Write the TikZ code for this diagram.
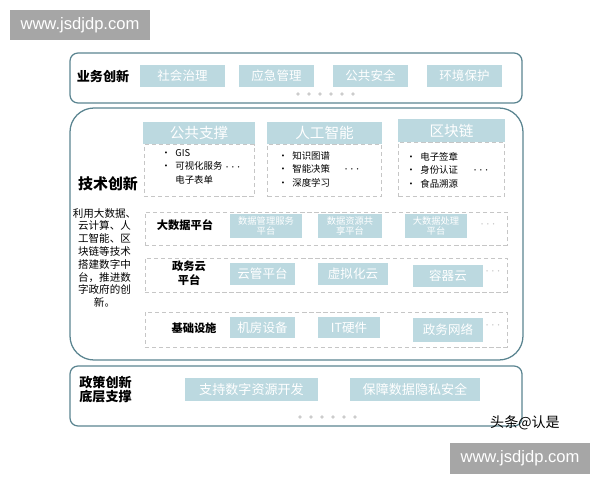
\documentclass[tikz,border=0pt]{standalone}
\usepackage{fontspec}
\setmainfont{Noto Sans CJK SC}
\newfontfamily\latinfont{Liberation Sans}
\usetikzlibrary{positioning}

\definecolor{frameclr}{HTML}{5A8490}
\definecolor{cellclr}{HTML}{BCD9E0}
\definecolor{markclr}{HTML}{A6A6A6}

\begin{document}
\begin{tikzpicture}[
        x=0.25mm, y=-0.25mm,
        frame/.style = {
            draw=frameclr,
            line width=0.9pt,
            rounded corners=#1,
            inner sep=0pt
        },
        frame/.default = 2mm,
        cell/.style = {
            fill=cellclr,
            text=white,
            inner sep=0pt,
            align=center,
            font=\fontsize{8.9}{10}\selectfont
        },
        head/.style = {
            cell,
            font=\fontsize{10.4}{12}\selectfont
        },
        dashbox/.style = {
            draw=gray!45,
            dash pattern=on 3pt off 2pt,
            line width=0.5pt,
            inner sep=0pt
        },
        pip/.style = {
            circle,
            fill=gray!40,
            inner sep=0pt,
            minimum size=2.6pt
        },
        tag/.style = {
            font=\bfseries\fontsize{9.3}{10.6}\selectfont,
            align=center,
            inner sep=0pt
        },
        bullets/.style = {
            anchor=north west,
            align=left,
            inner sep=0pt,
            font=\fontsize{6.7}{9.6}\selectfont
        },
        more/.style = {
            font=\bfseries\fontsize{9}{10}\selectfont,
            inner sep=0pt
        },
        watermark/.style = {
            fill=markclr,
            text=white,
            inner sep=0pt,
            minimum width=35mm,
            minimum height=7.6mm,
            font=\latinfont\fontsize{11.8}{13}\selectfont
        }
        ]
        \useasboundingbox (0,0) rectangle (600,480);
%
        \node[watermark] (wmtop) at (80,25) {www.jsdjdp.com};
%
% top frame
        \node[frame, minimum width=113mm, minimum height=12.5mm] (biz) at (296,78) {};
        \node[tag] (bizlab) at (103,76) {业务创新};
        \node[cell, minimum width=21.25mm, minimum height=5.5mm] (b1) at (182.5,76) {社会治理};
        \node[cell, minimum width=18.75mm, minimum height=5.5mm] (b2) at (276.5,76) {应急管理};
        \node[cell, minimum width=18.75mm, minimum height=5.5mm] (b3) at (370.5,76) {公共安全};
        \node[cell, minimum width=18.75mm, minimum height=5.5mm] (b4) at (464.5,76) {环境保护};
        \foreach \i in {0,...,5}
            \node[pip] (bd\i) at (298+11*\i,94) {};
%
% middle frame
        \node[frame=6mm, minimum width=113.25mm, minimum height=63mm] (tech) at (296.5,234) {};
        \node[tag, font=\bfseries\fontsize{10.6}{12}\selectfont] (techlab) at (108,184) {技术创新};
        \node[align=center, inner sep=0pt, font=\fontsize{7.5}{9.1}\selectfont, anchor=north] (techtxt) at (104.5,208)
            {利用大数据、\\云计算、人\\工智能、区\\块链等技术\\搭建数字中\\台，推进数\\字政府的创\\新。};
%
        \node[head, minimum width=28mm, minimum height=5.5mm] (h1) at (199,133) {公共支撑};
        \node[head, minimum width=28.75mm, minimum height=5.5mm] (h2) at (324.5,133) {人工智能};
        \node[head, minimum width=26.75mm, minimum height=5.75mm] (h3) at (451.5,130.5) {区块链};
%
        \node[dashbox, minimum width=27.5mm, minimum height=13mm, below=0pt of h1] (l1) {};
        \node[dashbox, minimum width=28.5mm, minimum height=13mm, below=0pt of h2] (l2) {};
        \node[dashbox, minimum width=26.5mm, minimum height=13.5mm, below=0pt of h3] (l3) {};
%
        \node[bullets] (t1) at (161,149) {•\enspace GIS\\•\enspace 可视化服务\\\phantom{•}\enspace 电子表单};
        \node[bullets] (t2) at (278,151) {•\enspace 知识图谱\\•\enspace 智能决策\\•\enspace 深度学习};
        \node[bullets] (t3) at (406,152) {•\enspace 电子签章\\•\enspace 身份认证\\•\enspace 食品溯源};
        \node[more] (m1) at (233,168) {$\cdots$};
        \node[more] (m2) at (352,170) {$\cdots$};
        \node[more] (m3) at (481,171) {$\cdots$};
%
% rows
        \node[dashbox, minimum width=90.5mm, minimum height=8.25mm] (r1) at (326,228.5) {};
        \node[dashbox, minimum width=90.5mm, minimum height=8.5mm] (r2) at (326,275) {};
        \node[dashbox, minimum width=90.5mm, minimum height=8.75mm] (r3) at (326,329.5) {};
%
        \node[tag, font=\bfseries\fontsize{8}{10}\selectfont] (r1lab) at (185,225) {大数据平台};
        \node[tag, font=\bfseries\fontsize{8}{10}\selectfont] (r2lab) at (189,273) {政务云\\平台};
        \node[tag, font=\bfseries\fontsize{8}{10}\selectfont] (r3lab) at (194,328) {基础设施};
%
        \node[cell, font=\fontsize{6.6}{7.6}\selectfont, minimum width=18mm, minimum height=6mm] (c11) at (266,226) {数据管理服务\\平台};
        \node[cell, font=\fontsize{6.6}{7.6}\selectfont, minimum width=16mm, minimum height=6mm] (c12) at (350,226) {数据资源共\\享平台};
        \node[cell, font=\fontsize{6.6}{7.6}\selectfont, minimum width=15.5mm, minimum height=6mm] (c13) at (436,226) {大数据处理\\平台};
        \node[more, text=gray!50] (m4) at (488,225) {$\cdots$};
%
        \node[cell, minimum width=16.25mm, minimum height=5.5mm] (c21) at (262.5,274) {云管平台};
        \node[cell, minimum width=17.5mm, minimum height=5.5mm] (c22) at (353,274) {虚拟化云};
        \node[cell, minimum width=17.5mm, minimum height=5.5mm] (c23) at (448,276) {容器云};
        \node[more, text=gray!50] (m5) at (493,272) {$\cdots$};
%
        \node[cell, minimum width=16.25mm, minimum height=5.25mm] (c31) at (262.5,327.5) {机房设备};
        \node[cell, minimum width=15.5mm, minimum height=5.25mm] (c32) at (349,327.5) {IT硬件};
        \node[cell, minimum width=17.5mm, minimum height=6mm] (c33) at (448,330) {政务网络};
        \node[more, text=gray!50] (m6) at (493,326) {$\cdots$};
%
% bottom frame
        \node[frame, minimum width=113mm, minimum height=15mm] (policy) at (296,396) {};
        \node[tag] (polab) at (105.5,389.5) {政策创新\\底层支撑};
        \node[cell, font=\fontsize{9.3}{11}\selectfont, minimum width=33.25mm, minimum height=5.75mm] (p1) at (251.5,389.5) {支持数字资源开发};
        \node[cell, font=\fontsize{9.3}{11}\selectfont, minimum width=32.5mm, minimum height=5.75mm] (p2) at (415,389.5) {保障数据隐私安全};
        \foreach \i in {0,...,5}
            \node[pip] (pd\i) at (300+11*\i,417) {};
%
        \node[inner sep=0pt, font=\fontsize{10}{12}\selectfont] (author) at (525,423) {头条@认是};
        \node[watermark] (wmbot) at (520,458.5) {www.jsdjdp.com};
    \end{tikzpicture}
\end{document}
